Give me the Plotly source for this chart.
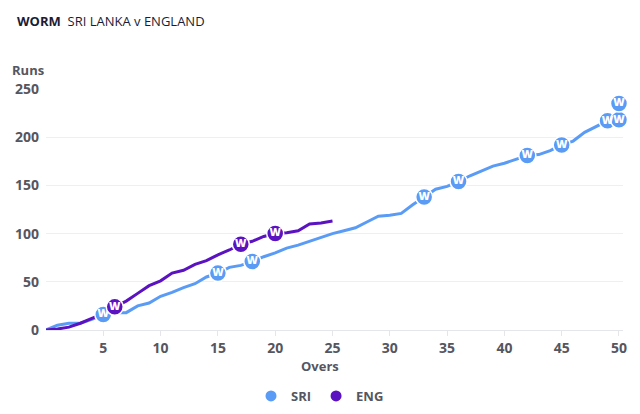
import plotly.graph_objects as go

overs_sri = list(range(0, 51))
runs_sri = [0, 5, 7, 7, 11, 16, 18, 18, 25, 28,
            35, 39, 44, 48, 55, 59, 65, 67, 71, 76,
            80, 85, 88, 92, 96, 100, 103, 106, 112, 118,
            119, 121, 130, 138, 146, 149, 154, 160, 165, 170,
            173, 177, 181, 182, 186, 192, 196, 205, 211, 217,
            218]
overs_eng = list(range(0, 26))
runs_eng = [0, 1, 3, 7, 12, 17, 24, 30, 38, 46,
            51, 59, 62, 68, 72, 78, 83, 89, 92, 97,
            100, 101, 103, 110, 111, 113]

sri_wkt_overs = [5, 15, 18, 33, 36, 42, 45, 49, 50, 50]
sri_wkt_runs = [16, 59, 71, 138, 154, 181, 192, 217, 218, 235]
eng_wkt_overs = [6, 17, 20]
eng_wkt_runs = [24, 89, 100]

x_ticks = [5, 10, 15, 20, 25, 30, 35, 40, 45, 50]
y_ticks = [0, 50, 100, 150, 200, 250]

SRI_C = "#5a9bf6"
ENG_C = "#5b12c0"
FONT = "Open Sans"
GRAY = "#55565f"

fig = go.Figure()
fig.add_trace(go.Scatter(x=overs_sri, y=runs_sri, mode="lines",
                         line=dict(color=SRI_C, width=3), showlegend=False,
                         hoverinfo="skip"))
fig.add_trace(go.Scatter(x=overs_eng, y=runs_eng, mode="lines",
                         line=dict(color=ENG_C, width=3), showlegend=False,
                         hoverinfo="skip"))
for xs, ys, c in [(sri_wkt_overs, sri_wkt_runs, SRI_C), (eng_wkt_overs, eng_wkt_runs, ENG_C)]:
    fig.add_trace(go.Scatter(x=xs, y=ys, mode="markers+text", text=["W"] * len(xs),
                             textposition="middle center",
                             textfont=dict(family=FONT, size=11, color="white", weight=800),
                             marker=dict(color=c, size=17, line=dict(color="white", width=1.5)),
                             showlegend=False, cliponaxis=False))
fig.add_trace(go.Scatter(x=[None], y=[None], mode="markers", name="SRI",
                         marker=dict(color=SRI_C, size=11)))
fig.add_trace(go.Scatter(x=[None], y=[None], mode="markers", name="ENG",
                         marker=dict(color=ENG_C, size=11)))

fig.update_layout(
    width=640, height=414,
    margin=dict(l=46, r=17, t=89, b=84, autoexpand=False),
    paper_bgcolor="white", plot_bgcolor="white",
    font=dict(family=FONT, color=GRAY),
    showlegend=True,
    legend=dict(orientation="h", x=0.5, xref="container", xanchor="center",
                y=(414 - 396) / 414, yref="container", yanchor="middle",
                font=dict(size=13, color=GRAY, weight=700), itemwidth=30),
    xaxis=dict(range=[0, 50.35], tickvals=x_ticks, showgrid=False, zeroline=False,
               showline=True, linecolor="#e4e6ea", linewidth=1,
               ticks="outside", ticklen=5, tickcolor="#e4e6ea",
               tickfont=dict(size=14, color=GRAY, weight=700)),
    yaxis=dict(range=[0, 250], tickvals=y_ticks, showgrid=True, gridcolor="#eeeff2",
               zeroline=False, showline=False, ticks="", ticklabelstandoff=6,
               tickfont=dict(size=14, color=GRAY, weight=700)),
    annotations=[
        dict(text="<b>WORM</b>  SRI LANKA v ENGLAND", xref="paper", yref="paper",
             x=(15 - 46) / 577, y=1 + (89 - 21) / 241, xanchor="left", yanchor="middle",
             showarrow=False, font=dict(family=FONT, size=13, color="#1b1c33")),
        dict(text="Runs", xref="paper", yref="paper",
             x=(10 - 46) / 577, y=1 + (89 - 70) / 241, xanchor="left", yanchor="middle",
             showarrow=False, font=dict(family=FONT, size=13, color=GRAY, weight=700)),
        dict(text="Overs", xref="paper", yref="paper",
             x=(320 - 46) / 577, y=-(366 - 330) / 241, xanchor="center", yanchor="middle",
             showarrow=False, font=dict(family=FONT, size=13, color=GRAY, weight=700)),
    ],
)

fig.write_html("out.html")
